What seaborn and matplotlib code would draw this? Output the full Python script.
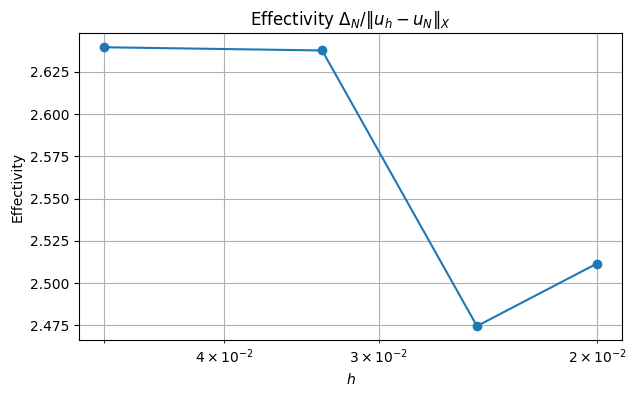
import matplotlib
matplotlib.use("Agg")
import matplotlib.pyplot as plt
import seaborn as sns
import pandas as pd

h_values = [1/20, 1/30, 1/40, 1/50]
effectivity = [2.6395, 2.6376, 2.4746, 2.5116]

df = pd.DataFrame({"h": h_values, "eff": effectivity})

fig, ax = plt.subplots(figsize=(6.36, 3.98), dpi=100)
sns.lineplot(data=df, x="h", y="eff", marker="o", markersize=7,
             markeredgewidth=0, color="#1f77b4", linewidth=1.5, ax=ax)
ax.set_xscale("log")
ax.invert_xaxis()
ax.grid(True, which="both", color="#b0b0b0", linewidth=0.8)
ax.set_axisbelow(True)
ax.set_title(r"Effectivity $\Delta_N/\|u_h - u_N\|_X$")
ax.set_xlabel(r"$h$")
ax.set_ylabel("Effectivity")
fig.subplots_adjust(left=0.1247, right=0.9775, bottom=0.1457, top=0.9163)
fig.savefig("out.png", dpi=100)
